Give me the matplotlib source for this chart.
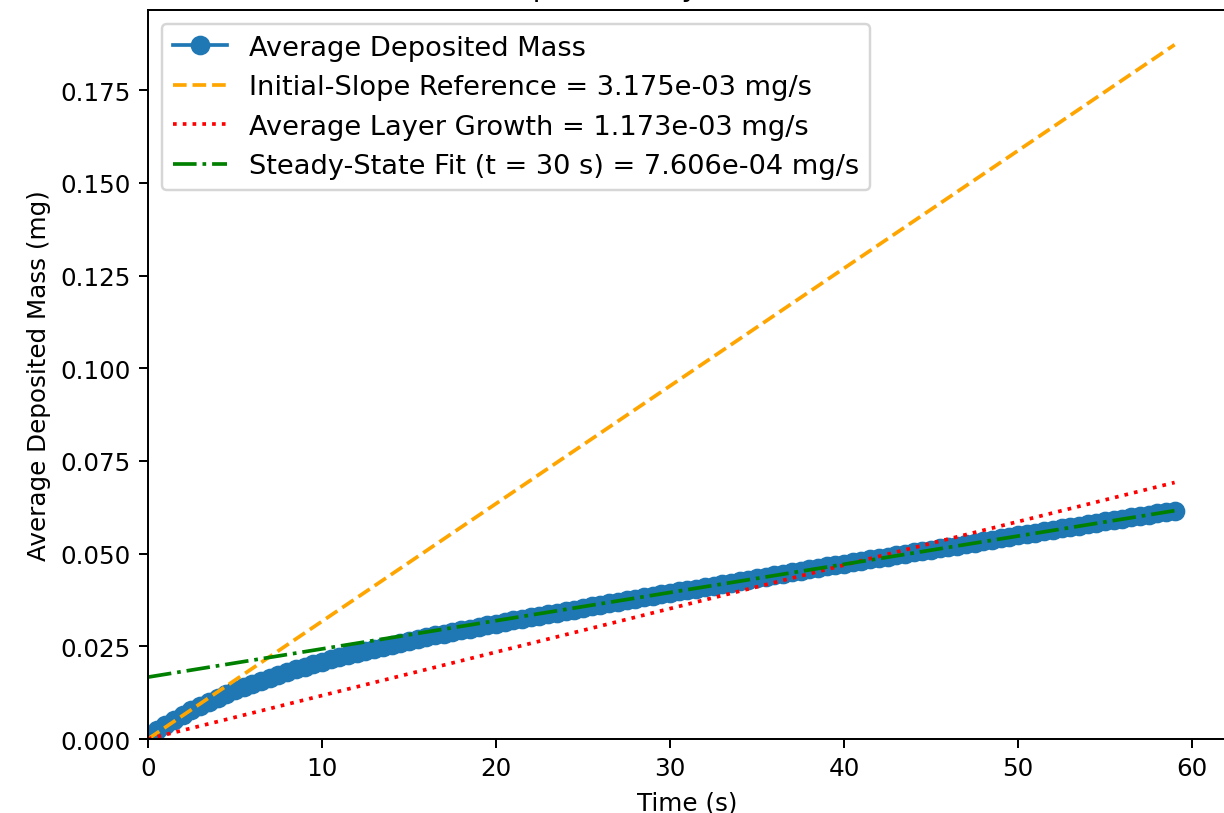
import numpy as np
import matplotlib.pyplot as plt

# time points (s) and average deposited mass (mg)
time_s = np.arange(0, 59.5, 0.5)
avg_mass = [
    0.0008, 0.0023, 0.0038, 0.0052, 0.0065, 0.0077, 0.0089, 0.0100, 0.0111, 0.0121,
    0.0131, 0.0140, 0.0149, 0.0157, 0.0165, 0.0173, 0.0181, 0.0188, 0.0195, 0.0202,
    0.0208, 0.0215, 0.0221, 0.0227, 0.0233, 0.0238, 0.0244, 0.0249, 0.0254, 0.0260,
    0.0265, 0.0270, 0.0275, 0.0280, 0.0284, 0.0289, 0.0294, 0.0298, 0.0303, 0.0307,
    0.0311, 0.0316, 0.0320, 0.0324, 0.0329, 0.0333, 0.0337, 0.0341, 0.0345, 0.0349,
    0.0354, 0.0358, 0.0362, 0.0366, 0.0370, 0.0374, 0.0378, 0.0382, 0.0386, 0.0390,
    0.0394, 0.0398, 0.0402, 0.0406, 0.0410, 0.0414, 0.0418, 0.0422, 0.0426, 0.0430,
    0.0434, 0.0438, 0.0442, 0.0446, 0.0450, 0.0454, 0.0458, 0.0462, 0.0466, 0.0470,
    0.0473, 0.0477, 0.0481, 0.0485, 0.0488, 0.0492, 0.0496, 0.0500, 0.0504, 0.0507,
    0.0511, 0.0515, 0.0519, 0.0522, 0.0526, 0.0530, 0.0534, 0.0538, 0.0541, 0.0545,
    0.0549, 0.0553, 0.0557, 0.0560, 0.0564, 0.0568, 0.0572, 0.0575, 0.0579, 0.0583,
    0.0587, 0.0590, 0.0594, 0.0598, 0.0601, 0.0605, 0.0609, 0.0612, 0.0616,
]

# reference lines: start / end points (t = 0 and t = 59 s)
ref_t = [0, 59]
initial_slope_line = [0.0, 0.1873]
layer_growth_line = [0.0, 0.0692]
steady_fit_line = [0.0167, 0.0616]

labels = [
    "Average Deposited Mass",
    "Initial-Slope Reference = 3.175e-03 mg/s",
    "Average Layer Growth = 1.173e-03 mg/s",
    "Steady-State Fit (t = 30 s) = 7.606e-04 mg/s",
]

dpi = 177
fig = plt.figure(figsize=(1224 / dpi, 814 / dpi), dpi=dpi)
ax = fig.add_axes([0.1209, 0.0909, 0.8807, 0.8956])

ax.plot(time_s, avg_mass, "o-", markersize=7, label=labels[0])
ax.plot(ref_t, initial_slope_line, "--", color="orange", label=labels[1])
ax.plot(ref_t, layer_growth_line, ":", color="red", label=labels[2])
ax.plot(ref_t, steady_fit_line, "-.", color="green", label=labels[3])

ax.set_xlim(left=0)
ax.set_ylim(bottom=0)
ax.set_xlabel("Time (s)")
ax.set_ylabel("Average Deposited Mass (mg)")
# title sits mostly above the visible area, as in the reference crop
ax.set_title("Mass Deposition Dynamics Over Time")
ax.legend(loc="upper left", fontsize=11.1)

fig.savefig("out.png", dpi=dpi)
